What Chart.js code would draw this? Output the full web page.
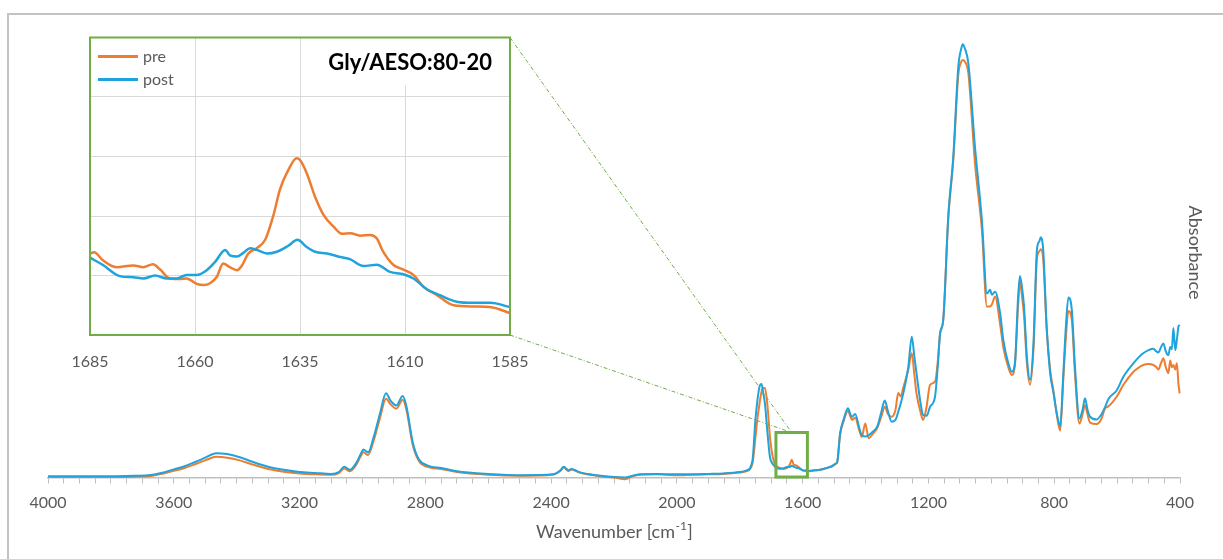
<!DOCTYPE html>
<html><head><meta charset="utf-8">
<script src="https://cdn.jsdelivr.net/npm/chart.js@4.4.1/dist/chart.umd.min.js"></script>
<style>
html,body{margin:0;padding:0;background:#fff;}
#wrap{position:relative;width:1223px;height:559px;overflow:hidden;background:#fff;}
#main{position:absolute;left:0;top:0;}
#inset{position:absolute;left:60px;top:20px;}
</style></head><body>
<div id="wrap"><canvas id="main" width="1223" height="559"></canvas><canvas id="inset" width="480" height="360"></canvas></div>
<script>
// ---------------- data ----------------
const seriesNames = ['pre', 'post'];
const wavenumbers = [4000,3900,3800,3720,3680,3640,3600,3570,3530,3500,3465,3430,3390,3350,3300,3250,3200,3150,3100,3075,3058,3040,3020,3005,2997,2982,2965,2945,2925,2910,2892,2872,2860,2840,2820,2790,2750,2700,2600,2490,2395,2370,2360,2345,2335,2310,2255,2200,2165,2140,2117,2064,2012,1949,1900,1853,1800,1778,1760,1750,1744,1736,1731,1726,1720,1712,1704,1695,1688,1675,1662,1650,1640,1635,1628,1620,1610,1600,1590,1585,1560,1545,1520,1508,1495,1490,1481,1470,1456,1448,1443,1433,1420,1412,1401,1390,1377,1363,1350,1339,1328,1317,1305,1296,1288,1280,1264,1253,1245,1238,1225,1217,1206,1195,1179,1170,1163,1153,1137,1121,1105,1095,1091,1085,1073,1052,1030,1014,1004,998,988,972,962,946,935,925,915,909,902,896,887,877,866,855,847,843,835,824,813,802,792,781,771,763,755,744,734,720,710,702,694,686,665,650,638,628,601,580,548,530,517,500,485,475,469,460,453,445,437,431,426,421,415,410,405,401];
const pre = [0.001,0.001,0.001,0.002,0.003,0.008,0.015,0.020,0.030,0.038,0.046,0.044,0.038,0.029,0.019,0.013,0.009,0.007,0.006,0.010,0.020,0.014,0.028,0.048,0.056,0.050,0.080,0.130,0.175,0.162,0.153,0.173,0.150,0.072,0.036,0.023,0.019,0.012,0.006,0.004,0.006,0.015,0.022,0.014,0.018,0.011,0.004,0.000,-0.004,0.003,0.006,0.007,0.005,0.006,0.007,0.008,0.011,0.014,0.030,0.090,0.130,0.170,0.190,0.199,0.199,0.160,0.090,0.045,0.030,0.0217,0.0195,0.0209,0.0302,0.0397,0.028,0.0267,0.021,0.016,0.0148,0.0137,0.016,0.017,0.022,0.024,0.030,0.034,0.095,0.125,0.148,0.135,0.128,0.133,0.105,0.090,0.120,0.087,0.097,0.110,0.135,0.157,0.140,0.135,0.150,0.188,0.180,0.200,0.240,0.276,0.230,0.187,0.145,0.128,0.157,0.206,0.213,0.26,0.32,0.35,0.575,0.705,0.895,0.925,0.928,0.925,0.898,0.698,0.55,0.38,0.38,0.385,0.402,0.34,0.29,0.245,0.228,0.25,0.38,0.435,0.40,0.36,0.255,0.206,0.285,0.487,0.503,0.507,0.485,0.33,0.24,0.19,0.14,0.104,0.22,0.31,0.37,0.35,0.23,0.12,0.14,0.161,0.14,0.122,0.119,0.13,0.154,0.158,0.18,0.206,0.235,0.245,0.25,0.252,0.25,0.245,0.24,0.255,0.265,0.245,0.232,0.26,0.245,0.25,0.24,0.254,0.209,0.187];
const post = [0.003,0.003,0.003,0.004,0.005,0.010,0.018,0.024,0.035,0.044,0.054,0.052,0.045,0.035,0.024,0.017,0.012,0.010,0.008,0.012,0.024,0.017,0.032,0.053,0.062,0.056,0.088,0.140,0.187,0.170,0.160,0.181,0.158,0.078,0.040,0.026,0.021,0.014,0.008,0.005,0.007,0.016,0.024,0.016,0.019,0.012,0.005,0.001,0.000,0.004,0.007,0.008,0.007,0.007,0.008,0.009,0.012,0.016,0.036,0.130,0.171,0.205,0.208,0.190,0.164,0.100,0.045,0.030,0.024,0.0197,0.020,0.0232,0.024,0.026,0.0237,0.0216,0.020,0.0162,0.0154,0.0147,0.016,0.017,0.022,0.025,0.031,0.035,0.098,0.128,0.154,0.140,0.135,0.141,0.110,0.094,0.091,0.094,0.102,0.113,0.145,0.171,0.145,0.124,0.128,0.146,0.165,0.187,0.246,0.313,0.27,0.232,0.165,0.139,0.137,0.157,0.180,0.25,0.32,0.35,0.58,0.713,0.913,0.955,0.963,0.955,0.92,0.735,0.572,0.409,0.417,0.406,0.413,0.365,0.306,0.254,0.235,0.254,0.40,0.448,0.42,0.38,0.268,0.217,0.298,0.506,0.525,0.534,0.506,0.335,0.232,0.187,0.143,0.114,0.232,0.335,0.40,0.372,0.246,0.131,0.15,0.176,0.15,0.135,0.129,0.14,0.157,0.174,0.194,0.224,0.254,0.268,0.276,0.283,0.286,0.28,0.278,0.29,0.298,0.28,0.272,0.29,0.285,0.332,0.283,0.306,0.335,0.339];
const xTicksMain = [4000,3600,3200,2800,2400,2000,1600,1200,800,400];

// inset (zoom of 1685-1585 cm-1)
const insetWnPre = [1685,1684,1682,1678.7,1674.7,1672.3,1670,1668.3,1666,1663.6,1662,1659.6,1658,1656.4,1654.8,1653.3,1651.7,1650,1648.9,1647.3,1645.3,1643.3,1641.3,1639.8,1637.8,1635.8,1635,1633.4,1631.4,1629.4,1627,1625,1623,1620.7,1618.3,1616.7,1615.2,1612.8,1610.4,1608,1605.6,1602.4,1598.4,1593.7,1589.7,1585];
const insetPre = [0.0237,0.0239,0.0226,0.0214,0.0217,0.0214,0.0219,0.0210,0.0195,0.0194,0.0195,0.0186,0.0184,0.0187,0.0198,0.0220,0.0214,0.0209,0.0216,0.0237,0.0246,0.0260,0.0302,0.0344,0.0377,0.0397,0.0394,0.0372,0.0332,0.0302,0.0282,0.0270,0.0271,0.0267,0.0268,0.0262,0.0240,0.0218,0.0210,0.0201,0.0181,0.0167,0.0150,0.0148,0.0147,0.0137];
const insetWnPost = [1685,1682,1677.9,1674.7,1672.3,1669.5,1666.7,1664.3,1662,1659.6,1657.2,1655.2,1652.8,1651.7,1650,1648.5,1646.9,1645.3,1642.9,1640.5,1637.8,1635.6,1633.4,1631.4,1628.6,1625.4,1623,1619.9,1616.7,1613.6,1610.4,1608,1604.8,1601.7,1597.7,1593.7,1589.7,1585];
const insetPost = [0.0230,0.0218,0.0199,0.0197,0.0195,0.0200,0.0195,0.0195,0.0201,0.0201,0.0209,0.0223,0.0243,0.0234,0.0232,0.0238,0.0246,0.0243,0.0237,0.0240,0.0250,0.0260,0.0248,0.0240,0.0237,0.0231,0.0227,0.0216,0.0218,0.0206,0.0202,0.0195,0.0177,0.0167,0.0156,0.0154,0.0154,0.0147];
const xTicksInset = [1685,1660,1635,1610,1585];
const yTicksInset = [0.01,0.02,0.03,0.04,0.05,0.06];
const insetTitle = 'Gly/AESO:80-20';
const xTitleMain = 'Wavenumber [cm';
const xTitleSup = '-1';
const xTitleEnd = ']';
const yTitleMain = 'Absorbance';

// ---------------- styles ----------------
const ORANGE = '#ED7D31', BLUE = '#1FA3DC', GREEN = '#70AD47', GRAY = '#595959', AXIS = '#BFBFBF';
const FONT = 'Lato, "Open Sans", sans-serif';
const INSET_LEFT = 60, INSET_TOP = 20;
Chart.defaults.font.family = FONT;

const insetDeco = {
  id: 'insetDeco',
  beforeDraw(c) {
    const a = c.chartArea, ctx = c.ctx;
    ctx.save(); ctx.fillStyle = '#fff'; ctx.fillRect(a.left, a.top, a.right - a.left, a.bottom - a.top); ctx.restore();
  },
  beforeDatasetsDraw(c) {
    const a = c.chartArea, ctx = c.ctx;
    ctx.save(); ctx.fillStyle = '#fff';
    ctx.fillRect(a.right - 192, a.top + 1, 190, 47); ctx.restore();
  },
  afterDatasetsDraw(c) {
    const a = c.chartArea, ctx = c.ctx;
    ctx.save();
    ctx.strokeStyle = GREEN; ctx.lineWidth = 2;
    ctx.strokeRect(a.left, a.top, a.right - a.left, a.bottom - a.top);
    // legend
    const items = [[seriesNames[0], ORANGE], [seriesNames[1], BLUE]];
    items.forEach((it, i) => {
      const y = a.top + 19 + i * 23;
      ctx.strokeStyle = it[1]; ctx.lineWidth = 3;
      ctx.beginPath(); ctx.moveTo(a.left + 8, y); ctx.lineTo(a.left + 48, y); ctx.stroke();
      ctx.fillStyle = GRAY; ctx.font = '16px ' + FONT; ctx.textBaseline = 'middle'; ctx.textAlign = 'left';
      ctx.fillText(it[0], a.left + 53, y);
    });
    // title
    ctx.fillStyle = '#000'; ctx.font = 'bold 22px ' + FONT; ctx.textAlign = 'right'; ctx.textBaseline = 'alphabetic';
    ctx.fillText(insetTitle, a.right - 18, a.top + 32);
    ctx.restore();
  }
};

const insetChart = new Chart(document.getElementById('inset'), {
  type: 'line',
  data: { datasets: [
    { label: seriesNames[0], data: insetWnPre.map((w, i) => ({ x: w, y: insetPre[i] })), borderColor: ORANGE, borderWidth: 2.5, pointRadius: 0, cubicInterpolationMode: 'monotone', order: 1 },
    { label: seriesNames[1], data: insetWnPost.map((w, i) => ({ x: w, y: insetPost[i] })), borderColor: BLUE, borderWidth: 2.5, pointRadius: 0, cubicInterpolationMode: 'monotone', order: 0 }
  ] },
  options: {
    responsive: false, animation: false, devicePixelRatio: 1,
    layout: { padding: { left: 30, right: 30, top: 17.5, bottom: 0 } },
    plugins: { legend: { display: false }, tooltip: { enabled: false } },
    scales: {
      x: { type: 'linear', reverse: true, min: 1585, max: 1685,
        afterBuildTicks: s => { s.ticks = xTicksInset.map(v => ({ value: v })); },
        afterFit: s => { s.height = 45; s.paddingLeft = 0; s.paddingRight = 0; },
        ticks: { autoSkip: false, maxRotation: 0, padding: 17, color: GRAY, font: { size: 16 }, callback: v => String(v) },
        grid: { color: '#D9D9D9', drawTicks: false, lineWidth: 1 },
        border: { display: false } },
      y: { min: 0.01, max: 0.06,
        afterBuildTicks: s => { s.ticks = yTicksInset.map(v => ({ value: v })); },
        afterFit: s => { s.width = 0; s.paddingTop = 0; s.paddingBottom = 0; },
        ticks: { display: false },
        grid: { color: '#D9D9D9', drawTicks: false, lineWidth: 1 },
        border: { display: false } }
    }
  },
  plugins: [insetDeco]
});

const mainDeco = {
  id: 'mainDeco',
  beforeDraw(c) {
    const ctx = c.ctx;
    ctx.save();
    ctx.fillStyle = '#fff'; ctx.fillRect(0, 0, c.width, c.height);
    ctx.strokeStyle = '#C3C3C3'; ctx.lineWidth = 2;
    ctx.strokeRect(8, 14, 1400, 800);
    ctx.restore();
  },
  afterDatasetsDraw(c) {
    const ctx = c.ctx, xs = c.scales.x, ys = c.scales.y;
    const ia = insetChart.chartArea;
    const bx1 = xs.getPixelForValue(xTicksInset[0]), bx2 = xs.getPixelForValue(xTicksInset[xTicksInset.length - 1]);
    const by1 = ys.getPixelForValue(0.1), by2 = ys.getPixelForValue(0.001);
    const cx = xs.getPixelForValue(1635);
    ctx.save();
    ctx.strokeStyle = GREEN; ctx.lineWidth = 1; ctx.setLineDash([4, 2, 1, 2]);
    ctx.beginPath();
    ctx.moveTo(INSET_LEFT + ia.right, INSET_TOP + ia.top); ctx.lineTo(cx, by1);
    ctx.moveTo(INSET_LEFT + ia.right, INSET_TOP + ia.bottom); ctx.lineTo(cx, by1);
    ctx.stroke();
    ctx.setLineDash([]);
    ctx.lineWidth = 3;
    ctx.strokeRect(bx1, by1, bx2 - bx1, by2 - by1);
    ctx.restore();
  },
  afterDraw(c) {
    const ctx = c.ctx, a = c.chartArea;
    ctx.save();
    ctx.fillStyle = GRAY; ctx.textBaseline = 'middle'; ctx.textAlign = 'left';
    const f1 = '18px ' + FONT, f2 = '12px ' + FONT;
    ctx.font = f1; const w1 = ctx.measureText(xTitleMain).width, w3 = ctx.measureText(xTitleEnd).width;
    ctx.font = f2; const w2 = ctx.measureText(xTitleSup).width;
    let x = (a.left + a.right) / 2 - (w1 + w2 + w3) / 2;
    const y = 532;
    ctx.font = f1; ctx.fillText(xTitleMain, x, y); x += w1;
    ctx.font = f2; ctx.fillText(xTitleSup, x + 0.5, y - 6); x += w2 + 1;
    ctx.font = f1; ctx.fillText(xTitleEnd, x, y);
    // y title
    ctx.translate(1195, (a.top + a.bottom) / 2);
    ctx.rotate(Math.PI / 2);
    ctx.textAlign = 'center'; ctx.font = '18px ' + FONT;
    ctx.fillText(yTitleMain, 0, 0);
    ctx.restore();
  }
};

new Chart(document.getElementById('main'), {
  type: 'line',
  data: { datasets: [
    { label: seriesNames[0], data: wavenumbers.map((w, i) => ({ x: w, y: pre[i] })), borderColor: ORANGE, borderWidth: 2, pointRadius: 0, cubicInterpolationMode: 'monotone', order: 1, clip: 8 },
    { label: seriesNames[1], data: wavenumbers.map((w, i) => ({ x: w, y: post[i] })), borderColor: BLUE, borderWidth: 2, pointRadius: 0, cubicInterpolationMode: 'monotone', order: 0, clip: 8 }
  ] },
  options: {
    responsive: false, animation: false, devicePixelRatio: 1,
    layout: { padding: { left: 48, right: 43, top: 27.5, bottom: 0 } },
    plugins: { legend: { display: false }, tooltip: { enabled: false } },
    scales: {
      x: { type: 'linear', reverse: true, min: 400, max: 4000,
        afterBuildTicks: s => { const t = []; for (let v = 400; v <= 4000; v += 50) t.push({ value: v }); s.ticks = t; },
        afterFit: s => { s.height = 81.5; },
        ticks: { autoSkip: false, maxRotation: 0, padding: 10, color: GRAY, font: { size: 16 },
          callback: v => xTicksMain.includes(v) ? String(v) : '' },
        grid: { drawOnChartArea: false, drawTicks: true, tickLength: 6, tickColor: AXIS, tickWidth: 1 },
        border: { color: AXIS, width: 1.5 } },
      y: { display: false, min: 0, max: 1 }
    }
  },
  plugins: [mainDeco]
});
</script>
</body></html>
